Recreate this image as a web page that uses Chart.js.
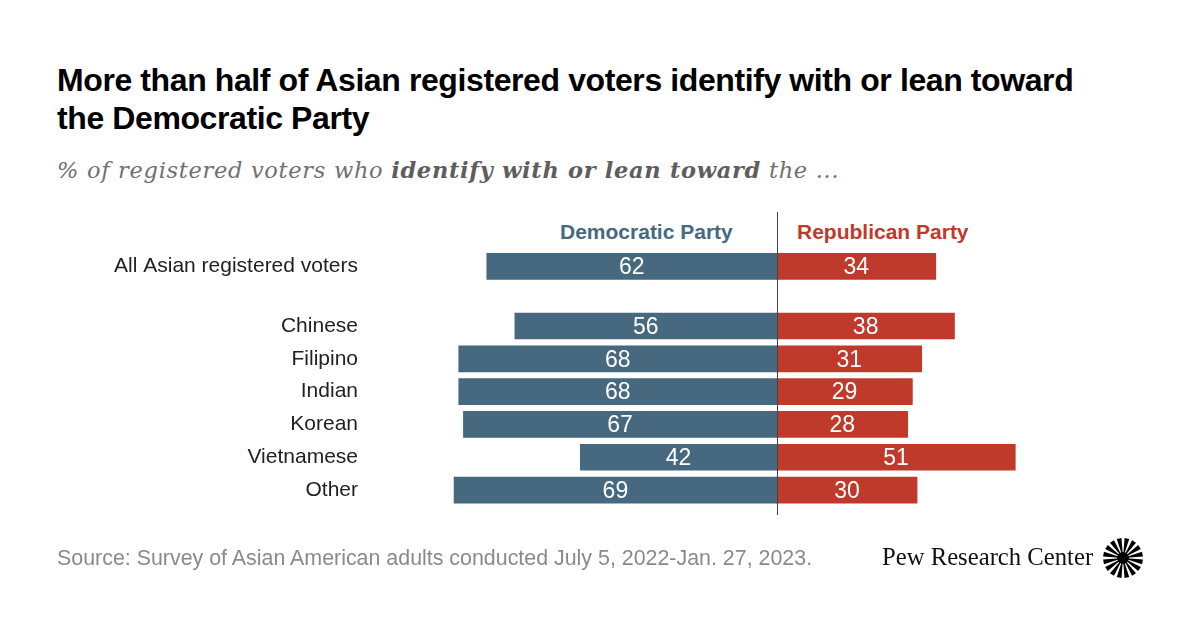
<!DOCTYPE html>
<html>
<head>
<meta charset="utf-8">
<script src="https://cdn.jsdelivr.net/npm/chart.js@4/dist/chart.umd.min.js"></script>
<style>
  body { margin: 0; background: #fff; }
  #wrap { position: relative; width: 1200px; height: 628px; overflow: hidden; background: #fff; }
  #wrap canvas { position: absolute; left: 0; top: 0; }
  .title { position: absolute; left: 57px; top: 61px; width: 1130px; font-family: 'Liberation Sans', Arial, sans-serif; font-weight: 700; font-size: 32px; letter-spacing: -0.4px; line-height: 38px; color: #000; }
  .subtitle { position: absolute; left: 57px; top: 157px; font-family: 'DejaVu Serif', 'Liberation Serif', serif; font-style: italic; font-size: 22.5px; letter-spacing: 0.7px; color: #707070; }
  .subtitle b { color: #5e5e5e; }
  .head { position: absolute; top: 220px; font-family: 'Liberation Sans', Arial, sans-serif; font-weight: 700; font-size: 21px; }
  .source { position: absolute; left: 57px; top: 546px; font-family: 'Liberation Sans', Arial, sans-serif; font-size: 21.4px; color: #8a8a8a; }
  .brand { position: absolute; left: 882px; top: 543px; font-family: 'Liberation Serif', serif; font-size: 24.7px; color: #111; }
  .logo { position: absolute; left: 1102px; top: 537px; }
</style>
</head>
<body>
<div id="wrap">
  <div class="title">More than half of Asian registered voters identify with or lean toward<br>the Democratic Party</div>
  <div class="subtitle">% of registered voters who <b>identify with or lean toward</b> the ...</div>
  <div class="head" style="left:560px;color:#46697f;">Democratic Party</div>
  <div class="head" style="left:797px;color:#bf3a2b;">Republican Party</div>
  <canvas id="chart" width="1200" height="628"></canvas>
  <div class="source">Source: Survey of Asian American adults conducted July 5, 2022-Jan. 27, 2023.</div>
  <div class="brand">Pew Research Center</div>
  <svg class="logo" width="42" height="42" viewBox="-21 -21 42 42" id="logo"></svg>
</div>
<script>
const categories = ['All Asian registered voters', 'Chinese', 'Filipino', 'Indian', 'Korean', 'Vietnamese', 'Other'];
const demValues = [62, 56, 68, 68, 67, 42, 69];
const repValues = [34, 38, 31, 29, 28, 51, 30];
const seriesNames = ['Democratic Party', 'Republican Party'];

// extra space after the first row (the "all" row stands apart)
const rowGap = 0.82;
const rowPos = categories.map((c, i) => i === 0 ? 0 : i + rowGap);

// logo rays
(function () {
  const svg = document.getElementById('logo');
  let s = '';
  const n = 16;
  for (let i = 0; i < n; i++) {
    const a = (i + 0.5) * 2 * Math.PI / n;
    const w = 0.12;
    const p1 = [Math.cos(a - w) * 20, Math.sin(a - w) * 20];
    const p2 = [Math.cos(a + w) * 20, Math.sin(a + w) * 20];
    s += `<polygon points="0,0 ${p1[0].toFixed(2)},${p1[1].toFixed(2)} ${p2[0].toFixed(2)},${p2[1].toFixed(2)}" fill="#000"/>`;
  }
  s += '<circle cx="0" cy="0" r="6" fill="#000"/>';
  svg.innerHTML = s;
})();

// zero line + value labels
const extras = {
  id: 'extras',
  afterDatasetsDraw(chart) {
    const { ctx, chartArea, scales } = chart;
    const x0 = Math.round(scales.x.getPixelForValue(0)) + 0.5;
    ctx.save();
    ctx.strokeStyle = '#444';
    ctx.lineWidth = 1;
    ctx.beginPath();
    ctx.moveTo(x0, chartArea.top);
    ctx.lineTo(x0, chartArea.bottom);
    ctx.stroke();

    ctx.fillStyle = '#fff';
    ctx.font = "23px 'Liberation Sans', Arial, sans-serif";
    ctx.textAlign = 'center';
    ctx.textBaseline = 'middle';
    chart.data.datasets.forEach((ds, di) => {
      chart.getDatasetMeta(di).data.forEach((bar, i) => {
        const v = di === 0 ? demValues[i] : repValues[i];
        ctx.fillText(String(v), (bar.x + bar.base) / 2, bar.y + 1.5);
      });
    });
    ctx.restore();
  }
};

new Chart(document.getElementById('chart'), {
  type: 'bar',
  data: {
    datasets: [
      {
        label: seriesNames[0],
        data: demValues.map((v, i) => ({ x: -v, y: rowPos[i] })),
        backgroundColor: '#46697f',
        grouped: false,
        barThickness: 26,
        borderWidth: 0
      },
      {
        label: seriesNames[1],
        data: repValues.map((v, i) => ({ x: v, y: rowPos[i] })),
        backgroundColor: '#bf3a2b',
        grouped: false,
        barThickness: 26,
        borderWidth: 0
      }
    ]
  },
  options: {
    indexAxis: 'y',
    responsive: false,
    animation: false,
    layout: {
      padding: { left: 0, right: 166, top: 212, bottom: 113 }
    },
    scales: {
      x: {
        type: 'linear',
        display: false,
        min: -75,
        max: 55
      },
      y: {
        type: 'linear',
        reverse: true,
        offset: false,
        min: -1.655,
        max: 7.58,
        grid: { display: false, drawTicks: false },
        border: { display: false },
        afterFit(scale) { scale.width = 426; },
        afterBuildTicks(scale) {
          scale.ticks = rowPos.map(v => ({ value: v }));
        },
        ticks: {
          autoSkip: false,
          padding: 68,
          color: '#222',
          font: { size: 21, family: "'Liberation Sans', Arial, sans-serif" },
          callback: (value, index) => categories[index]
        }
      }
    },
    plugins: {
      legend: { display: false },
      tooltip: { enabled: false }
    }
  },
  plugins: [extras]
});
</script>
</body>
</html>
